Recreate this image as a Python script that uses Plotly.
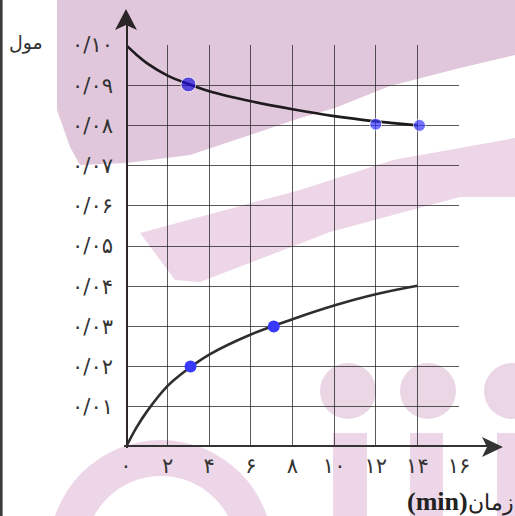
import plotly.graph_objects as go

# values (time in min, amount in mol)
time_upper = [0, 0.5, 1, 2, 3, 4, 6, 8, 10, 12, 14]
mol_upper = [0.100, 0.0976, 0.0955, 0.0924, 0.0903, 0.0885, 0.0860, 0.0840, 0.0823, 0.0810, 0.0800]
time_lower = [0, 0.5, 1, 2, 3, 4, 6, 8, 10, 12, 14]
mol_lower = [0, 0.0048, 0.0088, 0.0152, 0.0195, 0.0230, 0.0280, 0.0318, 0.0352, 0.0380, 0.0401]

dot_upper_time = [3, 12, 14.1]
dot_upper_mol = [0.0902, 0.0803, 0.0800]
dot_lower_time = [3.1, 7.1]
dot_lower_mol = [0.0200, 0.0300]

x_ticks = [0, 2, 4, 6, 8, 10, 12, 14, 16]
x_labels = ["۰", "۲", "۴", "۶", "۸", "۱۰", "۱۲", "۱۴", "۱۶"]
y_ticks = [0.01, 0.02, 0.03, 0.04, 0.05, 0.06, 0.07, 0.08, 0.09, 0.10]
y_labels = ["۰/۰۱", "۰/۰۲", "۰/۰۳", "۰/۰۴", "۰/۰۵", "۰/۰۶", "۰/۰۷", "۰/۰۸", "۰/۰۹", "۰/۱۰"]

W, H = 515, 516
ML, MR, MT, MB = 126, 56, 45, 69
PW, PH = W - ML - MR, H - MT - MB


def px(x):
    return (x - ML) / PW


def py(y):
    return (H - MB - y) / PH


def poly(points):
    d = "M " + " L ".join(f"{px(a):.4f},{py(b):.4f}" for a, b in points) + " Z"
    return d


fig = go.Figure()
fig.add_trace(go.Scatter(x=time_upper, y=mol_upper, mode="lines",
                         line=dict(color="#1e1a1e", width=2.6, shape="spline"),
                         hoverinfo="skip"))
fig.add_trace(go.Scatter(x=time_lower, y=mol_lower, mode="lines",
                         line=dict(color="#2e2e2e", width=2.6, shape="spline"),
                         hoverinfo="skip"))
fig.add_trace(go.Scatter(x=dot_upper_time, y=dot_upper_mol, mode="markers",
                         marker=dict(color=["#2010dc", "#3838ff", "#3838ff"], size=[15, 12, 12])))
fig.add_trace(go.Scatter(x=dot_lower_time, y=dot_lower_mol, mode="markers",
                         marker=dict(color="#3838ff", size=12)))

# watermark in the background
pink = "rgb(225,199,219)"
pale = "rgb(237,214,231)"
shapes = [
    dict(type="path", layer="below", xref="paper", yref="paper", line_width=0, fillcolor=pink,
         path=poly([(57, 0), (515, 0), (515, 55), (460, 68), (390, 86), (335, 108), (300, 118),
                    (250, 135), (190, 155), (126, 163), (80, 165), (70, 147), (57, 110)])),
    dict(type="path", layer="below", xref="paper", yref="paper", line_width=0, fillcolor=pale,
         path=poly([(140, 233), (300, 190), (393, 160), (515, 138), (515, 197), (460, 197),
                    (330, 232), (200, 282), (175, 280)])),
]
for cx in [348, 428, 512]:
    shapes.append(dict(type="circle", layer="below", xref="paper", yref="paper", line_width=0,
                       fillcolor="rgb(234,214,229)", x0=px(cx - 28), x1=px(cx + 28),
                       y0=py(419), y1=py(363)))
for a, b in [(333, 367), (410, 443), (497, 516)]:
    shapes.append(dict(type="rect", layer="below", xref="paper", yref="paper", line_width=0,
                       fillcolor=pale, x0=px(a), x1=px(b), y0=py(516), y1=py(433)))
shapes.append(dict(type="circle", layer="below", xref="paper", yref="paper", line_width=0,
                   fillcolor=pale, x0=px(161 - 112), x1=px(161 + 112),
                   y0=py(552 + 112), y1=py(440)))
shapes.append(dict(type="circle", layer="below", xref="paper", yref="paper", line_width=0,
                   fillcolor="white", x0=px(161 - 76), x1=px(161 + 76),
                   y0=py(552 + 76), y1=py(476)))

# frame line on the left edge
shapes.append(dict(type="line", xref="paper", yref="paper", x0=px(1.3), x1=px(1.3),
                   y0=py(0), y1=py(516), line=dict(color="#3c3c3c", width=2.6)))

# axes with arrows
axis_c = "#2b2528"
shapes.append(dict(type="line", xref="x", yref="paper", x0=0, x1=0, y0=py(448), y1=py(22),
                   line=dict(color=axis_c, width=4)))
shapes.append(dict(type="line", xref="paper", yref="y", x0=px(124), x1=px(490), y0=0, y1=0,
                   line=dict(color="#333333", width=4)))
shapes.append(dict(type="path", xref="paper", yref="paper", line_width=0, fillcolor=axis_c,
                   path=poly([(126, 9), (137, 30), (126, 25), (115, 30)])))
shapes.append(dict(type="path", xref="paper", yref="paper", line_width=0, fillcolor="#333333",
                   path=poly([(503, 447), (482, 437), (487, 447), (482, 457)])))

fig.update_layout(
    width=W, height=H,
    margin=dict(l=ML, r=MR, t=MT, b=MB),
    paper_bgcolor="white", plot_bgcolor="rgba(0,0,0,0)",
    showlegend=False,
    shapes=shapes,
    font=dict(family="DejaVu Sans", color="#333333"),
)
fig.update_xaxes(range=[0, 16], tickvals=x_ticks, ticktext=x_labels, showline=False,
                 zeroline=False, showgrid=True, gridcolor="rgba(35,35,35,0.75)", gridwidth=1,
                 ticks="", tickfont=dict(size=21), ticklabelstandoff=4, fixedrange=True)
fig.update_yaxes(range=[0, 0.10], tickvals=y_ticks, ticktext=y_labels, showline=False,
                 zeroline=False, showgrid=True, gridcolor="rgba(35,35,35,0.75)", gridwidth=1,
                 ticks="", tickfont=dict(size=21), ticklabelstandoff=12, fixedrange=True)

fig.add_annotation(text="مول", xref="paper", yref="paper", x=px(7), y=py(42),
                   xanchor="left", yanchor="middle",
                   showarrow=False, font=dict(size=19, color="#333333"))
fig.add_annotation(text="<b>(min)</b><span style=\"font-size:22px\">زمان</span>",
                   xref="paper", yref="paper", x=px(516), y=py(501),
                   xanchor="right", yanchor="middle", showarrow=False,
                   font=dict(family="Liberation Serif", size=26, color="#222222"))

# drop the page's default body margin so the figure fills the window
fig.write_html("out.html", config={"displayModeBar": False},
               post_script="document.body.style.margin='0';")
